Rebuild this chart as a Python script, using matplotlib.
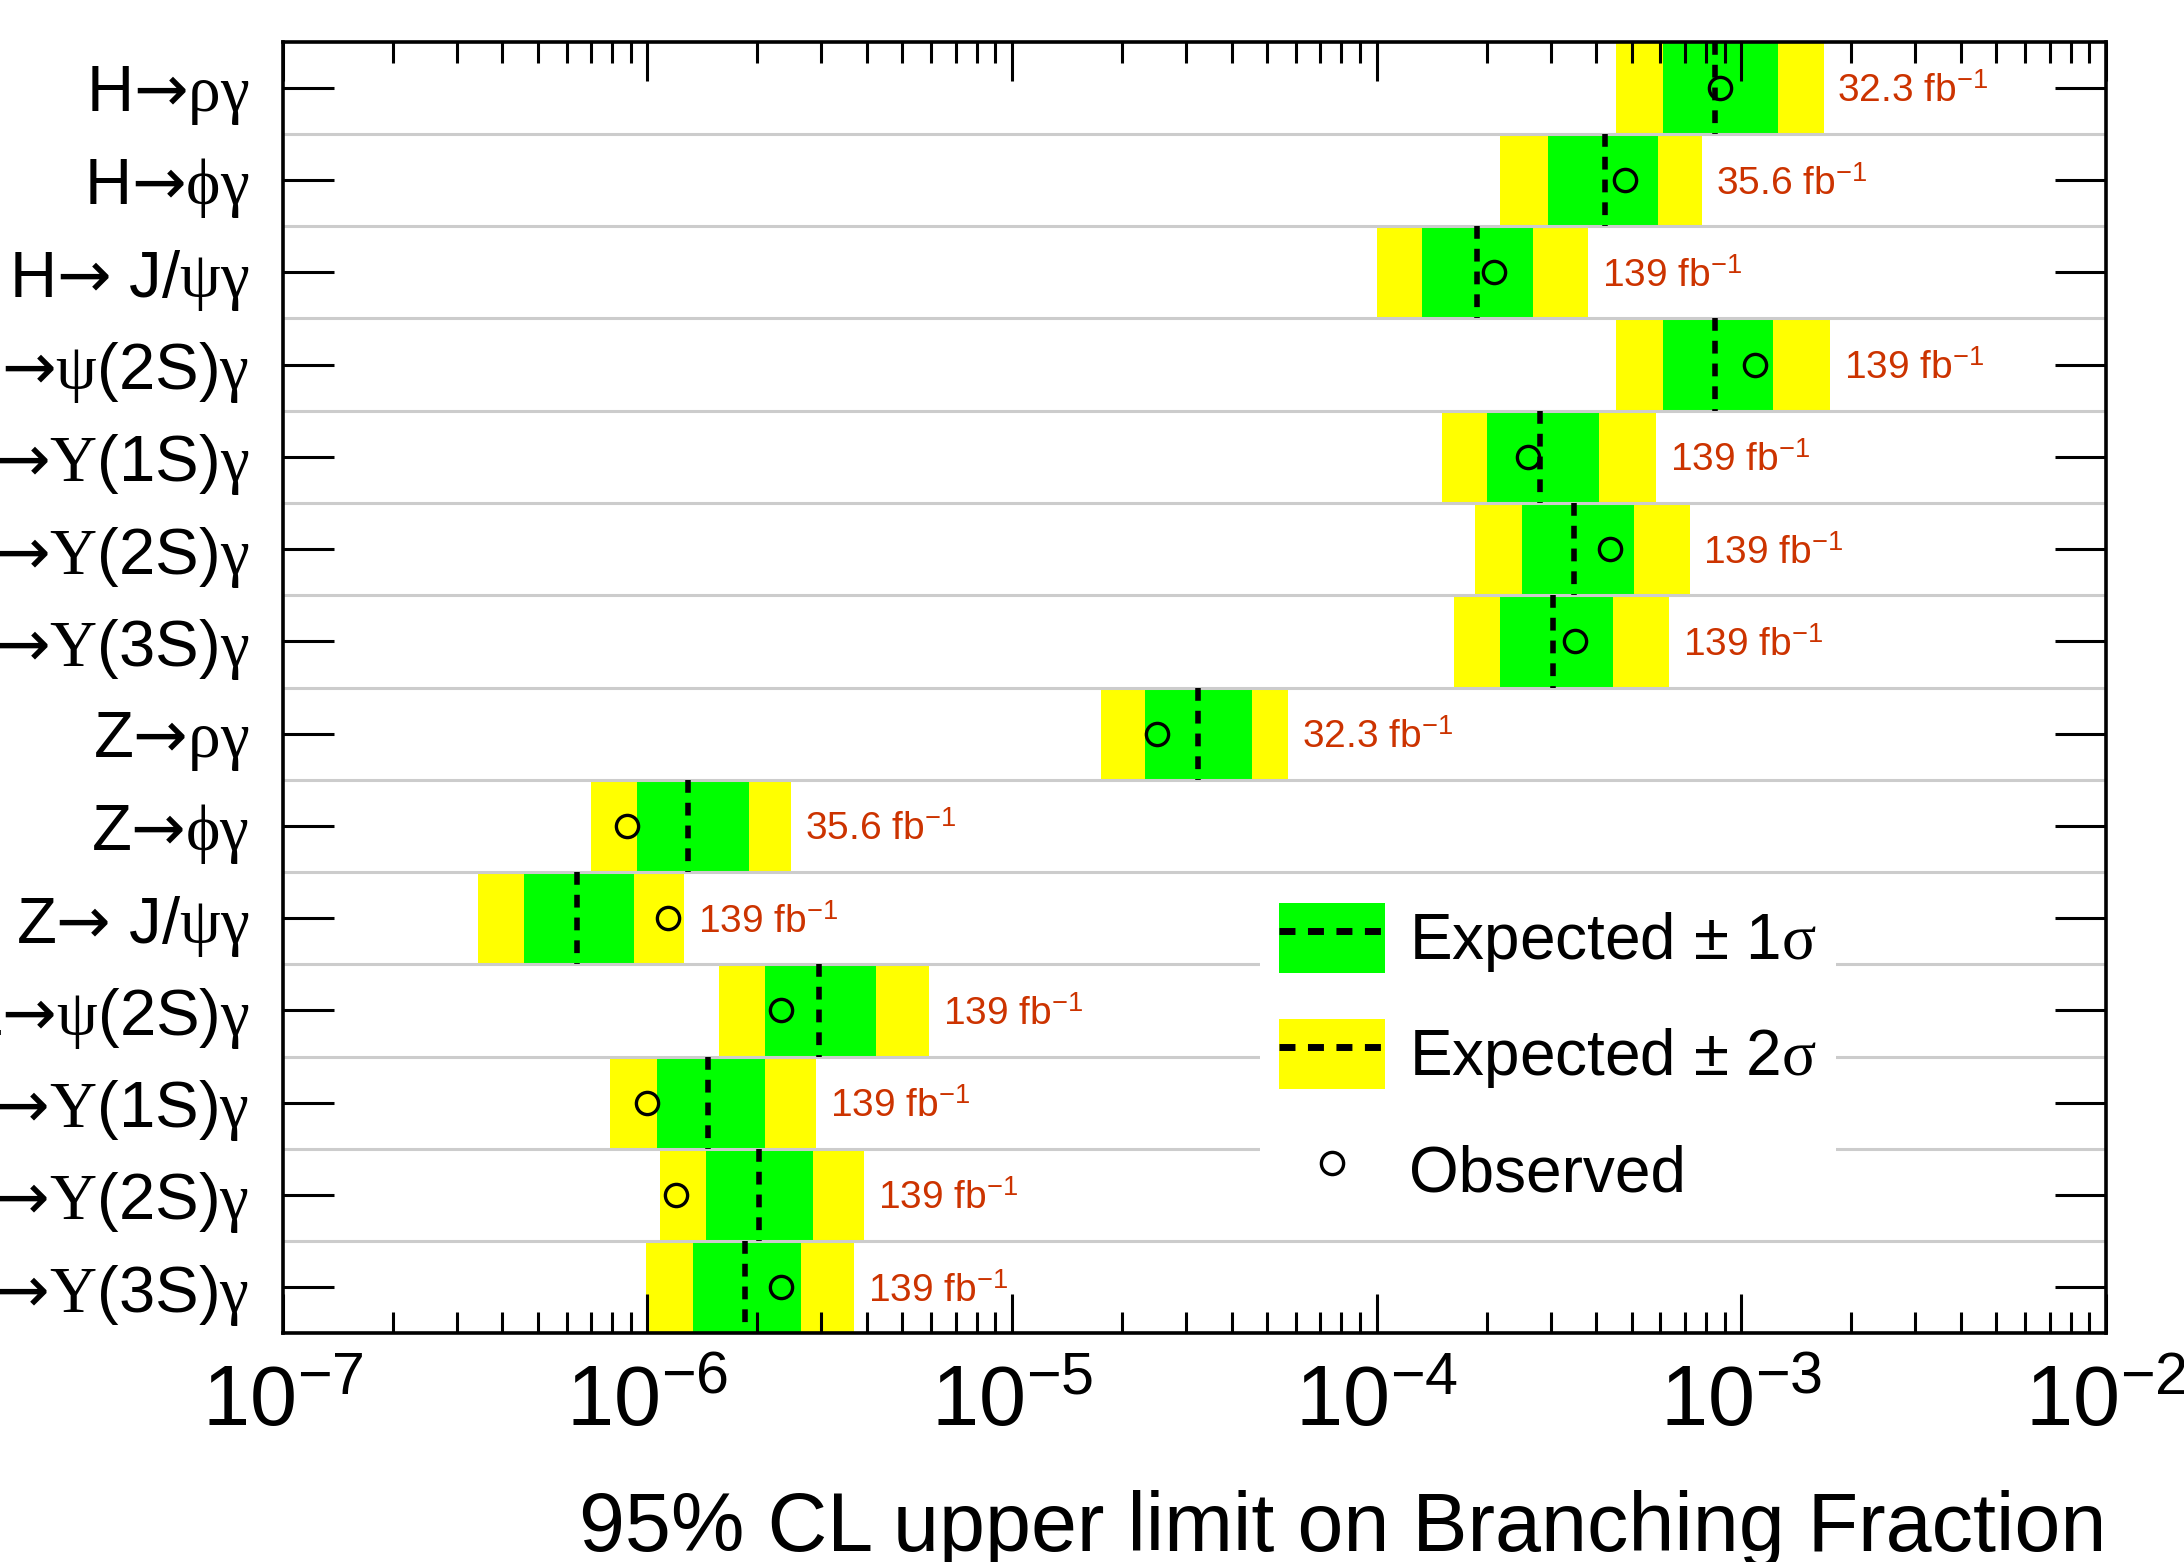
import numpy as np
import matplotlib
matplotlib.use("Agg")
import matplotlib.pyplot as plt
from matplotlib.patches import Patch
from matplotlib.lines import Line2D

# Fonts: Helvetica-like text, serif greek letters (ROOT look)
plt.rcParams["font.family"] = ["Liberation Sans", "DejaVu Sans"]
plt.rcParams["mathtext.fontset"] = "custom"
plt.rcParams["mathtext.rm"] = "Liberation Sans"
plt.rcParams["mathtext.it"] = "Liberation Serif"
plt.rcParams["mathtext.sf"] = "Liberation Serif"
plt.rcParams["mathtext.bf"] = "DejaVu Sans"   # only used for the wide arrow

AR = r"$\mathbf{→}$"

# Decay channels, top to bottom
channels = [
    "H" + AR + r"$\rho\gamma$",
    "H" + AR + r"$\phi\gamma$",
    "H" + AR + r" J/$\psi\gamma$",
    "H" + AR + r"$\psi$(2S)$\gamma$",
    "H" + AR + r"$\mathsf{\Upsilon}$(1S)$\gamma$",
    "H" + AR + r"$\mathsf{\Upsilon}$(2S)$\gamma$",
    "H" + AR + r"$\mathsf{\Upsilon}$(3S)$\gamma$",
    "Z" + AR + r"$\rho\gamma$",
    "Z" + AR + r"$\phi\gamma$",
    "Z" + AR + r" J/$\psi\gamma$",
    "Z" + AR + r"$\psi$(2S)$\gamma$",
    "Z" + AR + r"$\mathsf{\Upsilon}$(1S)$\gamma$",
    "Z" + AR + r"$\mathsf{\Upsilon}$(2S)$\gamma$",
    "Z" + AR + r"$\mathsf{\Upsilon}$(3S)$\gamma$",
]

# 95% CL limits
minus2 = [4.52e-4, 2.18e-4, 1.00e-4, 4.52e-4, 1.51e-4, 1.86e-4, 1.63e-4,
          1.75e-5, 6.98e-7, 3.43e-7, 1.57e-6, 7.9e-7, 1.08e-6, 9.93e-7]
minus1 = [6.1e-4, 2.94e-4, 1.33e-4, 6.1e-4, 2.01e-4, 2.51e-4, 2.18e-4,
          2.31e-5, 9.34e-7, 4.58e-7, 2.10e-6, 1.06e-6, 1.45e-6, 1.33e-6]
expected = [8.46e-4, 4.22e-4, 1.88e-4, 8.46e-4, 2.81e-4, 3.47e-4, 3.05e-4,
            3.23e-5, 1.29e-6, 6.4e-7, 2.96e-6, 1.47e-6, 2.02e-6, 1.85e-6]
plus1 = [1.26e-3, 5.89e-4, 2.69e-4, 1.22e-3, 4.07e-4, 5.07e-4, 4.45e-4,
         4.56e-5, 1.90e-6, 9.18e-7, 4.24e-6, 2.10e-6, 2.85e-6, 2.64e-6]
plus2 = [1.68e-3, 7.8e-4, 3.79e-4, 1.75e-3, 5.83e-4, 7.21e-4, 6.32e-4,
         5.72e-5, 2.48e-6, 1.26e-6, 5.92e-6, 2.90e-6, 3.92e-6, 3.68e-6]
observed = [8.75e-4, 4.81e-4, 2.10e-4, 1.09e-3, 2.60e-4, 4.37e-4, 3.50e-4,
            2.50e-5, 8.78e-7, 1.14e-6, 2.33e-6, 1.00e-6, 1.20e-6, 2.33e-6]
lumi = ["32.3", "35.6", "139", "139", "139", "139", "139",
        "32.3", "35.6", "139", "139", "139", "139", "139"]

y = np.arange(len(channels))
minus2 = np.array(minus2)
minus1 = np.array(minus1)
plus1 = np.array(plus1)
plus2 = np.array(plus2)

fig = plt.figure(figsize=(21.84, 15.62), dpi=100)
ax = fig.add_axes([0.1295, 0.1464, 0.8348, 0.8269])

# Bands
ax.barh(y, plus2 - minus2, left=minus2, height=1.0, color="#ffff00", zorder=1)
ax.barh(y, plus1 - minus1, left=minus1, height=1.0, color="#00ff00", zorder=1.2)

# Row separators
for b in y[1:] - 0.5:
    ax.axhline(b, color="#cccccc", lw=2.2, zorder=1.5)

# Expected median
ax.vlines(expected, y - 0.5, y + 0.5, colors="black", lw=4,
          linestyles=(0, (2.3, 1.8)), zorder=3)

# Observed
ax.plot(observed, y, "o", mfc="none", mec="black", ms=16, mew=2.4,
        ls="none", zorder=4)

# Luminosity labels
for yi, xi, lab in zip(y, plus2, lumi):
    ax.annotate(lab + " fb$^{-1}$", (xi, yi), xytext=(10, -3),
                textcoords="offset points", va="center", ha="left",
                color="#cc3300", fontsize=28)

ax.set_xscale("log")
ax.set_xlim(1e-7, 1e-2)
ax.set_ylim(len(channels) - 0.5, -0.5)
ax.set_yticks(y)
ax.set_yticklabels(channels)

for sp in ax.spines.values():
    sp.set_linewidth(2.6)

ax.tick_params(axis="y", which="major", direction="in", left=True, right=True,
               length=37, width=2.2, labelsize=47, pad=24)
ax.tick_params(axis="y", which="minor", left=False, right=False)
ax.tick_params(axis="x", which="major", direction="in", top=True, bottom=True,
               length=28, width=2.2, labelsize=61, pad=22)
ax.tick_params(axis="x", which="minor", direction="in", top=True, bottom=True,
               length=15, width=2.2)

ax.set_xlabel("95% CL upper limit on Branching Fraction", fontsize=59.5,
              ha="right")
ax.xaxis.set_label_coords(1.0, -0.121)

# Legend
dash = (0, (2.3, 1.8))
handles = [
    (Patch(facecolor="#00ff00", edgecolor="none"),
     Line2D([], [], color="black", lw=5, ls=dash)),
    (Patch(facecolor="#ffff00", edgecolor="none"),
     Line2D([], [], color="black", lw=5, ls=dash)),
    Line2D([], [], marker="o", mfc="none", mec="black", ms=16, mew=2.4,
           ls="none"),
]
labels = [r"Expected $\pm$ 1$\sigma$", r"Expected $\pm$ 2$\sigma$", "Observed"]
leg = ax.legend(handles, labels, loc="upper left", bbox_to_anchor=(0.536, 0.348),
                borderaxespad=0, fontsize=46, handlelength=1.65,
                handleheight=1.3, handletextpad=0.38, labelspacing=0.7,
                borderpad=0.3, frameon=True, fancybox=False)
leg.get_frame().set_facecolor("white")
leg.get_frame().set_edgecolor("none")
leg.get_frame().set_alpha(1.0)
leg.set_zorder(6)

fig.savefig("out.png", dpi=100)
